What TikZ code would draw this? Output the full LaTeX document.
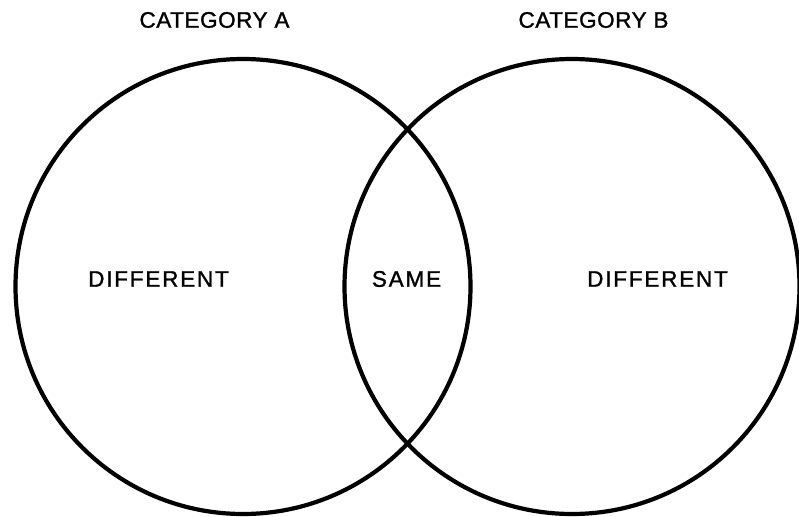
\documentclass[tikz,border=0pt]{standalone}
\usepackage{fontspec}
\newfontfamily\titlefont[LetterSpace=2.5,FakeBold=1.3]{Liberation Sans}
\newfontfamily\labelfont[LetterSpace=8,FakeBold=1.3]{Liberation Sans}
\begin{document}
\begin{tikzpicture}[x=1pt,y=-1pt,
  setcircle/.style={circle, draw=black, line width=4.2pt, minimum size=455pt, inner sep=0pt},
  title/.style={font=\titlefont\fontsize{22.5}{26}\selectfont, inner sep=0pt},
  region/.style={font=\labelfont\fontsize{22.5}{26}\selectfont, inner sep=0pt}]
\useasboundingbox (0,0) rectangle (799,516);
\node[setcircle] (A) at (243,286.5) {};
\node[setcircle] (B) at (572,286.5) {};
\node[title] (ta) at (214.5,20) {CATEGORY A};
\node[title] (tb) at (593.5,20) {CATEGORY B};
\node[region] (da) at (158.5,279) {DIFFERENT};
\node[region] (s) at (406.5,279) {SAME};
\node[region] (db) at (657.5,279) {DIFFERENT};
\end{tikzpicture}
\end{document}
